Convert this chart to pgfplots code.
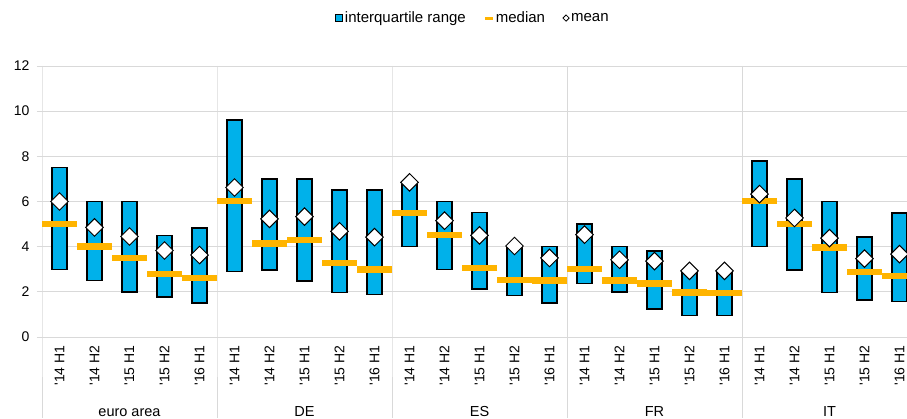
\documentclass[border=0pt]{standalone}
\usepackage{fontspec}
\setmainfont{Liberation Sans}
\usepackage{pgfplots}
\usepackage{pgfplotstable}
\pgfplotsset{compat=1.18}
\definecolor{iqrblue}{RGB}{0,177,234}
\definecolor{medorange}{RGB}{255,180,0}
\definecolor{gridgray}{RGB}{217,217,217}
\newcommand{\q}{\textquotesingle}

\pgfplotstableread{
x low high med mean
0 3.00 7.50 5.00 6.00
1 2.50 6.00 4.00 4.85
2 2.00 6.00 3.50 4.45
3 1.78 4.50 2.80 3.83
4 1.50 4.83 2.62 3.63
5 2.90 9.60 6.03 6.62
6 2.97 7.00 4.15 5.23
7 2.47 7.00 4.30 5.33
8 1.97 6.50 3.27 4.68
9 1.88 6.50 2.99 4.42
10 4.00 6.75 5.50 6.85
11 3.00 6.00 4.52 5.15
12 2.13 5.52 3.06 4.50
13 1.83 3.95 2.53 4.03
14 1.50 4.00 2.50 3.50
15 2.38 5.00 3.02 4.53
16 1.99 4.00 2.50 3.42
17 1.23 3.80 2.38 3.36
18 0.96 2.85 1.98 2.93
19 0.96 2.85 1.95 2.93
20 4.00 7.80 6.02 6.33
21 2.97 7.00 5.00 5.27
22 1.97 6.00 3.97 4.38
23 1.64 4.43 2.88 3.47
24 1.57 5.50 2.70 3.67
}\data

\begin{document}
\begin{tikzpicture}
\begin{axis}[
  scale only axis, width=865pt, height=271pt,
  xmin=-0.5, xmax=24.214, ymin=0, ymax=12,
  enlargelimits=false,
  ybar stacked, bar width=15pt,
  ytick={0,2,...,12},
  xtick={0,...,24},
  xticklabels={\q14 H1,\q14 H2,\q15 H1,\q15 H2,\q16 H1,
               \q14 H1,\q14 H2,\q15 H1,\q15 H2,\q16 H1,
               \q14 H1,\q14 H2,\q15 H1,\q15 H2,\q16 H1,
               \q14 H1,\q14 H2,\q15 H1,\q15 H2,\q16 H1,
               \q14 H1,\q14 H2,\q15 H1,\q15 H2,\q16 H1},
  x tick label style={rotate=90, anchor=east},
  y tick label style={xshift=-4pt},
  ymajorgrids, grid style={gridgray, line width=0.8pt},
  axis line style={draw=none},
  xtick style={draw=none},
  ytick style={draw=gridgray, line width=0.8pt},
  tick align=outside, major tick length=5pt,
  tick label style={font=\fontsize{14}{16}\selectfont},
  /pgf/number format/assume math mode=true,
  clip mode=individual,
]
\coordinate (sw) at (rel axis cs:0,0);
\coordinate (ne) at (rel axis cs:1,1);
\draw[gridgray, line width=0.8pt] (axis cs:-0.5,12) -- (axis cs:-0.5,0) -- ++(0pt,-81pt);
\draw[gridgray, line width=0.8pt] (axis cs:4.5,12) -- (axis cs:4.5,0) -- ++(0pt,-81pt);
\draw[gridgray, line width=0.8pt] (axis cs:9.5,12) -- (axis cs:9.5,0) -- ++(0pt,-81pt);
\draw[gridgray, line width=0.8pt] (axis cs:14.5,12) -- (axis cs:14.5,0) -- ++(0pt,-81pt);
\draw[gridgray, line width=0.8pt] (axis cs:19.5,12) -- (axis cs:19.5,0) -- ++(0pt,-81pt);
\addplot[draw=none, fill=none] table[x=x, y=low]{\data};
\addplot[fill=iqrblue, draw=black, line width=1.5pt] table[x=x, y expr=\thisrow{high}-\thisrow{low}]{\data};
\node[anchor=base, font=\fontsize{14.5}{16}\selectfont, yshift=-79pt] at (axis cs:2,0) {euro area};
\node[anchor=base, font=\fontsize{14.5}{16}\selectfont, yshift=-79pt] at (axis cs:7,0) {DE};
\node[anchor=base, font=\fontsize{14.5}{16}\selectfont, yshift=-79pt] at (axis cs:12,0) {ES};
\node[anchor=base, font=\fontsize{14.5}{16}\selectfont, yshift=-79pt] at (axis cs:17,0) {FR};
\node[anchor=base, font=\fontsize{14.5}{16}\selectfont, yshift=-79pt] at (axis cs:22,0) {IT};
\end{axis}
\begin{axis}[
  scale only axis, width=865pt, height=271pt,
  xmin=-0.5, xmax=24.214, ymin=0, ymax=12,
  enlargelimits=false,
  hide axis,
  legend columns=3,
  legend style={at={(0.498,1.177)}, anchor=center, draw=none, fill=none,
    font=\fontsize{15}{17}\selectfont,
    /tikz/every even column/.append style={column sep=16pt},
    /tikz/every odd column/.append style={column sep=0pt},
    nodes={inner xsep=1.5pt}},
]
\addlegendimage{legend image code/.code={\draw[fill=iqrblue, draw=black, line width=1pt] (0pt,-3.5pt) rectangle (7pt,3.5pt);}}
\addlegendentry{interquartile range}
\addplot[only marks, mark=-, mark size=17.5pt, mark options={draw=medorange, line width=6.5pt},
  legend image code/.code={\draw[medorange, line width=3pt] (0pt,0pt) -- (8pt,0pt);}]
  table[x=x, y=med]{\data};
\addlegendentry{median}
\addplot[only marks, mark=square*, mark size=6.2pt, mark options={rotate=45, fill=white, draw=black, line width=1pt},
  legend image code/.code={\draw[fill=white, draw=black, line width=0.8pt, rotate=45] (-2.2pt,-2.2pt) rectangle (2.2pt,2.2pt);}]
  table[x=x, y=mean]{\data};
\addlegendentry{mean}
\end{axis}
\pgfresetboundingbox
\path ([xshift=-42pt,yshift=-81pt]sw) rectangle ([yshift=66pt]ne);
\end{tikzpicture}
\end{document}
